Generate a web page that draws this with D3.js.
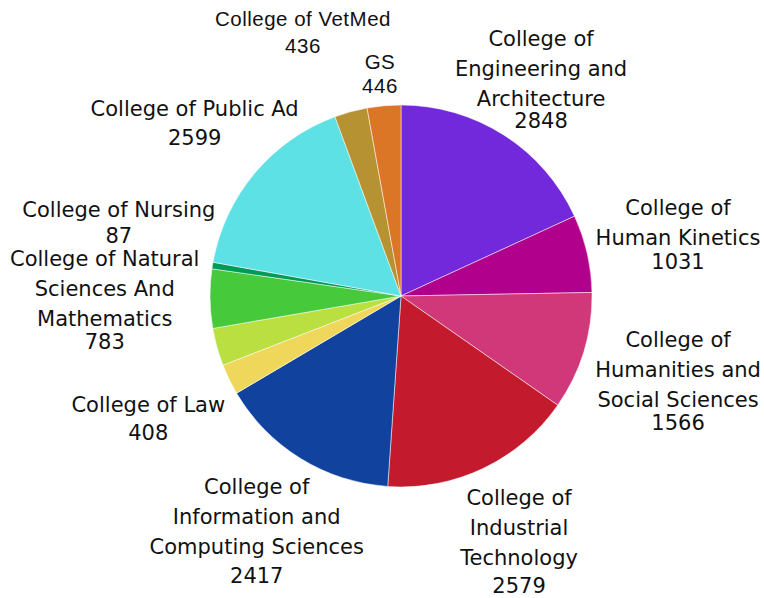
<!DOCTYPE html>
<html>
<head>
<meta charset="utf-8">
<script src="https://cdn.jsdelivr.net/npm/d3@7"></script>
<style>
  html, body { margin: 0; padding: 0; background: #ffffff; }
  svg { display: block; }
</style>
</head>
<body>
<svg id="chart" width="764" height="598"></svg>
<script>
// ---- data ----
const categories = [
  "College of Engineering and Architecture",
  "College of Human Kinetics",
  "College of Humanities and Social Sciences",
  "College of Industrial Technology",
  "College of Information and Computing Sciences",
  "College of Law",
  "(unlabeled)",
  "College of Natural Sciences And Mathematics",
  "College of Nursing",
  "College of Public Ad",
  "College of VetMed",
  "GS"
];
const values = [2848, 1031, 1566, 2579, 2417, 408, 500, 783, 87, 2599, 436, 446];
const labelLines = [
  ["College of", "Engineering and", "Architecture"],
  ["College of", "Human Kinetics"],
  ["College of", "Humanities and", "Social Sciences"],
  ["College of", "Industrial", "Technology"],
  ["College of", "Information and", "Computing Sciences"],
  ["College of Law"],
  null,
  ["College of Natural", "Sciences And", "Mathematics"],
  ["College of Nursing"],
  ["College of Public Ad"],
  ["College of VetMed"],
  ["GS"]
];
const colors = ["#7228DB", "#B1008C", "#D0387A", "#C41A2D", "#11429D", "#EED75B",
                "#B9DF41", "#46C93B", "#009A57", "#5DE1E5", "#B79233", "#DC7627"];

// ---- layout (label nudges relative to the arc's outer mid point) ----
const labelNudge = [
  {dx: 37, dy: -89.2, gap: 22.3},
  {dx: 90.8, dy: -38.5, gap: 24},
  {dx: 94.3, dy: -4.8, gap: 23.4},
  {dx: 35.6, dy: 36.7, gap: 28},
  {dx: -43.9, dy: 35.5, gap: 29.3},
  {dx: -80.9, dy: 32.3, gap: 28.3},
  null,
  {dx: -105.3, dy: -32.7, gap: 23.3},
  {dx: -93.6, dy: -48.8, gap: 26.6},
  {dx: -60, dy: -57.2, gap: 29},
  {dx: -47.9, dy: -85.7, gap: 27.3, alt: true},
  {dx: -4, dy: -36.5, gap: 24, alt: true}
];

const cx = 401, cy = 296, radius = 191, lineH = 30;

const data = categories.map((c, i) => ({name: c, value: values[i], color: colors[i],
  lines: labelLines[i], nudge: labelNudge[i]}));

const svg = d3.select("#chart");
const g = svg.append("g").attr("transform", `translate(${cx},${cy})`);

const pie = d3.pie().value(d => d.value).sort(null);
const arc = d3.arc().innerRadius(0).outerRadius(radius);
const arcs = pie(data);

g.selectAll("path.slice")
  .data(arcs)
  .join("path")
  .attr("class", "slice")
  .attr("d", arc)
  .attr("fill", d => d.data.color)
  .attr("stroke", "#ffffff")
  .attr("stroke-width", 0.5);

const labels = g.selectAll("g.label")
  .data(arcs.filter(d => d.data.lines))
  .join("g")
  .attr("class", "label")
  .attr("transform", d => {
    const a = (d.startAngle + d.endAngle) / 2;
    const x = radius * Math.sin(a) + d.data.nudge.dx;
    const y = -radius * Math.cos(a) + d.data.nudge.dy;
    return `translate(${x},${y})`;
  });

labels.each(function(d) {
  const sel = d3.select(this);
  const alt = d.data.nudge.alt;
  const t = sel.append("text")
    .attr("text-anchor", "middle")
    .attr("fill", "#111111")
    .style("font-family", alt ? "'Liberation Sans', Arial, sans-serif" : "'DejaVu Sans', sans-serif")
    .style("font-size", alt ? "20.5px" : "21px")
    .style("letter-spacing", alt ? "0.5px" : "0px");
  d.data.lines.forEach((ln, i) => {
    t.append("tspan").attr("x", 0).attr("y", i * lineH).text(ln);
  });
  t.append("tspan").attr("x", 0)
    .attr("y", (d.data.lines.length - 1) * lineH + d.data.nudge.gap)
    .text(d.data.value);
});
</script>
</body>
</html>
